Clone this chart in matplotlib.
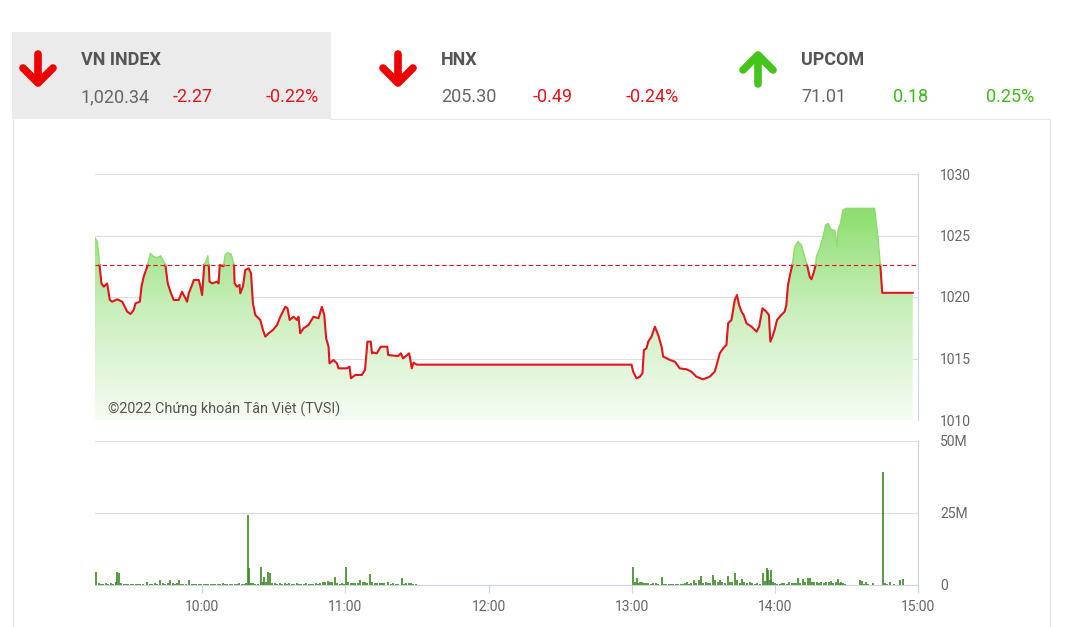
import matplotlib
matplotlib.use('Agg')
import matplotlib.pyplot as plt
from matplotlib.colors import LinearSegmentedColormap
from matplotlib.patches import Polygon, Rectangle
import numpy as np

plt.rcParams['font.family'] = ['Roboto', 'DejaVu Sans']

# header tiles
idx_names = ['VN INDEX', 'HNX', 'UPCOM']
idx_values = ['1,020.34', '205.30', '71.01']
idx_changes = ['-2.27', '-0.49', '0.18']
idx_pcts = ['-0.22%', '-0.24%', '0.25%']
idx_up = [False, False, True]

ref_price = 1022.61
watermark = '©2022 Chứng khoán Tân Việt (TVSI)'

# intraday price, minutes after 09:15
price_t = [0.0, 1.0, 1.5, 1.9, 2.7, 3.7, 5.1, 6.2, 7.2, 9.3, 11.4, 12.8, 13.5, 14.9, 16.2, 17.0,
           18.8, 19.5, 20.4, 21.9, 22.5, 23.2, 24.5, 26.0, 27.5, 28.5, 29.5, 30.5, 31.6, 33.0,
           35.1, 36.5, 38.6, 39.3, 40.7, 41.4, 43.5, 44.2, 44.9, 45.8, 46.5, 47.3, 47.7, 48.0,
           49.1, 51.2, 51.8, 52.3, 53.9, 54.5, 55.5, 57.0, 57.8, 58.3, 58.5, 59.5, 60.6, 60.9,
           62.0, 63.0, 64.4, 65.4, 66.2, 67.2, 69.3, 70.4, 71.4, 72.8, 74.6, 76.3, 77.7, 79.8,
           80.7, 81.6, 83.2, 84.7, 85.3, 86.0, 87.4, 89.5, 91.6, 93.7, 95.1, 96.1, 96.9, 97.9,
           98.3, 100.0, 101.4, 102.1, 105.6, 106.7, 107.3, 109.1, 111.8, 113.2, 114.2, 115.6,
           116.1, 116.4, 118.1, 119.8, 122.5, 122.9, 127.1, 128.2, 129.2, 131.7, 132.8, 133.5,
           134.9, 224.9, 225.6, 227.0, 228.4, 229.5, 230.1, 231.2, 231.9, 233.3, 234.7, 236.1,
           237.5, 238.2, 239.6, 241.0, 243.1, 245.1, 248.0, 250.0, 252.1, 254.9, 257.7, 259.8,
           260.8, 261.9, 263.3, 264.7, 265.4, 266.8, 268.2, 269.1, 270.0, 271.0, 271.9, 273.1,
           275.2, 277.3, 278.4, 279.8, 281.4, 282.5, 283.1, 284.0, 284.9, 285.9, 287.7, 289.1,
           289.8, 290.5, 291.5, 292.3, 293.3, 294.7, 296.1, 297.5, 298.5, 299.6, 300.3, 301.2,
           302.1, 302.4, 303.8, 305.2, 306.3, 307.3, 308.7, 310.1, 311.0, 311.5, 312.5, 313.5,
           315.0, 326.8, 328.2, 329.2, 330.0, 342.8]
price_v = [1024.8, 1024.5, 1023.6, 1022.6, 1021.1, 1020.84, 1021.1, 1019.76, 1019.62, 1019.81,
           1019.62, 1019.08, 1018.81, 1018.62, 1018.94, 1019.49, 1019.62, 1020.84, 1021.65,
           1022.47, 1023.0, 1023.55, 1023.3, 1023.2, 1023.35, 1023.0, 1022.6, 1021.11, 1020.43,
           1019.76, 1019.76, 1020.43, 1019.62, 1020.3, 1020.98, 1021.38, 1021.38, 1020.84,
           1020.16, 1022.6, 1022.9, 1023.35, 1022.6, 1021.25, 1021.11, 1021.25, 1021.11, 1022.6,
           1022.5, 1023.4, 1023.6, 1023.5, 1023.0, 1022.6, 1021.11, 1020.84, 1020.98, 1020.3,
           1020.84, 1022.2, 1022.33, 1021.93, 1019.49, 1018.54, 1018.13, 1017.32, 1016.78,
           1017.05, 1017.32, 1017.72, 1018.4, 1019.21, 1019.08, 1018.13, 1018.4, 1018.13,
           1018.4, 1017.05, 1017.45, 1017.72, 1018.4, 1018.27, 1019.21, 1018.54, 1016.64,
           1015.96, 1014.61, 1014.88, 1014.61, 1014.2, 1014.2, 1014.34, 1013.39, 1013.66,
           1013.66, 1014.07, 1016.37, 1016.37, 1015.42, 1015.5, 1015.42, 1015.96, 1015.96,
           1015.28, 1015.2, 1015.42, 1015.01, 1015.42, 1014.2, 1014.66, 1014.5, 1014.5,
           1013.93, 1013.39, 1013.52, 1013.79, 1015.69, 1015.83, 1016.37, 1016.78, 1017.59,
           1016.91, 1015.96, 1015.15, 1015.01, 1014.88, 1014.74, 1014.2, 1014.12, 1013.93,
           1013.52, 1013.31, 1013.52, 1013.93, 1014.61, 1015.42, 1015.83, 1016.1, 1017.86,
           1018.13, 1019.76, 1020.16, 1019.35, 1018.81, 1018.54, 1017.86, 1017.59, 1017.18,
           1017.59, 1019.08, 1018.81, 1018.54, 1016.37, 1016.78, 1017.32, 1018.13, 1018.54,
           1018.81, 1019.35, 1020.98, 1021.93, 1022.6, 1024.09, 1024.5, 1024.23, 1023.28,
           1022.6, 1021.65, 1021.44, 1021.93, 1022.6, 1023.28, 1023.96, 1024.9, 1025.85,
           1025.99, 1025.45, 1025.45, 1024.09, 1025.45, 1025.99, 1027.07, 1027.21, 1027.21,
           1024.9, 1022.6, 1020.34, 1020.34]

# volume (millions), minutes after 09:15
vol_t = [0.6, 1.5, 2.5, 3.5, 4.5, 5.5, 6.5, 7.5, 8.6, 9.3, 10.0, 10.7, 12, 13, 14, 15, 16, 17,
         18, 19, 20, 21.8, 23, 24, 25, 26, 27.4, 28.5, 29.5, 30.5, 31.6, 32.5, 33.5, 34.3, 35.1,
         36, 37, 38, 39.3, 40.5, 41.5, 42.5, 43.5, 44.5, 45.5, 46.5, 47.5, 48.5, 49.5, 50.5,
         51.5, 52.5, 53.5, 54.5, 55.5, 56.5, 57.5, 58.5, 59.5, 60.5, 61.5, 62.5, 63.3, 64.0,
         64.4, 65.3, 66.2, 67.2, 68.3, 69.6, 70.3, 70.9, 71.6, 72.5, 73.5, 74.4, 75.5, 76.5,
         77.5, 78.5, 79.5, 80.5, 81.5, 82.5, 83.5, 84.5, 85.5, 86.5, 87.5, 88.5, 89.5, 90.5,
         91.5, 92.5, 93.5, 94.5, 95.7, 96.6, 97.5, 98.5, 99.5, 100.7, 101.5, 102.5, 103.5,
         104.4, 105.2, 106.2, 107.2, 108.2, 109.2, 110.2, 111.2, 112.2, 113.2, 114.2, 115.3,
         116.3, 117.3, 118.3, 119.3, 120.3, 121.3, 122.9, 124, 125, 126, 127, 128.6, 129.6,
         130.5, 131.5, 132.5, 133.5, 134.5,
         225.6, 226.3, 227.0, 227.8, 228.5, 229.1, 230, 231, 232, 233, 234, 235, 236, 237.5,
         238.5, 239.5, 240.5, 241.5, 242.5, 243.5, 244.5, 245.5, 246.5, 247.3, 248, 249, 250,
         251, 252, 253, 254.2, 255, 256, 257, 258, 259.1, 260, 261, 262, 263, 264, 265.4,
         266.3, 267.2, 268.2, 269.2, 270.2, 271.2, 272.2, 273.2, 274.6, 275.6, 276.6, 277.6,
         278.6, 280.0, 280.8, 281.5, 282.1, 282.8, 283.3, 284.1, 285, 286, 287, 288, 289, 290,
         291, 292, 293, 294, 294.7, 295.6, 296.6, 297.5, 298.7, 299.6, 300.5, 301.5, 302.5,
         303.5, 304.5, 305.5, 306.5, 307.5, 308.7, 309.5, 310.5, 311.4, 312.2, 312.8, 313.7,
         314.6, 320.5, 321.4, 322.2, 323, 324.2, 326.1, 330.5, 331, 332, 333.2, 335, 337.4,
         338.6]
vol_m = [4.6, 0.6, 0.5, 0.5, 0.6, 0.5, 0.7, 0.5, 1.0, 4.6, 4.0, 0.8, 0.3, 0.3, 0.3, 0.3, 0.4,
         0.3, 0.4, 0.4, 0.5, 1.0, 0.4, 0.5, 0.6, 0.5, 1.8, 0.6, 0.5, 0.7, 1.8, 0.6, 0.5, 0.6,
         1.7, 0.5, 0.4, 0.3, 1.8, 0.4, 0.4, 0.3, 0.5, 0.4, 0.4, 0.5, 0.4, 0.5, 0.4, 0.3, 0.5,
         0.4, 0.6, 0.4, 0.5, 0.4, 0.3, 0.5, 0.4, 0.6, 0.5, 0.4, 0.6, 24.3, 5.8, 0.8, 0.6, 0.4,
         0.5, 6.3, 1.2, 2.9, 1.0, 4.4, 4.2, 0.8, 0.6, 0.5, 0.7, 0.5, 0.6, 0.4, 0.7, 0.5, 0.4,
         0.6, 0.5, 0.4, 0.5, 0.6, 0.4, 0.5, 0.4, 0.7, 0.5, 0.6, 1.2, 1.0, 1.3, 1.1, 1.2, 2.9,
         0.8, 0.5, 0.6, 0.5, 6.1, 0.9, 0.7, 0.6, 0.8, 0.7, 1.7, 0.9, 1.2, 0.8, 3.8, 0.9, 0.7,
         0.8, 0.6, 0.7, 0.6, 1.2, 0.5, 0.6, 0.5, 0.4, 2.3, 0.5, 0.8, 0.6, 0.7, 0.5, 0.4,
         6.1, 0.9, 2.3, 0.8, 0.9, 1.2, 0.7, 0.6, 0.7, 0.5, 0.6, 0.8, 0.5, 2.9, 0.5, 0.4, 0.4,
         0.5, 0.4, 0.4, 0.5, 0.4, 0.5, 0.7, 1.2, 0.5, 0.7, 1.6, 0.6, 1.6, 3.1, 0.6, 1.2, 0.8,
         0.6, 3.5, 1.7, 0.9, 1.7, 1.2, 0.6, 3.1, 1.2, 1.0, 4.0, 1.8, 0.8, 2.0, 0.9, 0.7, 1.2,
         0.6, 0.5, 0.6, 0.4, 4.0, 1.5, 5.8, 5.2, 1.8, 5.2, 0.9, 0.6, 0.4, 0.5, 0.6, 0.6, 0.5,
         1.0, 0.6, 0.8, 0.7, 2.3, 0.8, 2.0, 0.9, 2.3, 2.3, 1.0, 0.9, 1.2, 0.8, 0.9, 0.7, 1.0,
         1.1, 1.5, 0.8, 0.9, 2.0, 0.8, 1.2, 0.7, 0.5, 1.7, 1.5, 0.5, 1.2, 0.4, 0.8, 39.2, 0.8,
         0.5, 1.2, 0.4, 1.7, 2.0]

hour_ticks = [45, 105, 165, 225, 285, 345]
hour_labels = ['10:00', '11:00', '12:00', '13:00', '14:00', '15:00']
price_ticks = [1010, 1015, 1020, 1025, 1030]
vol_ticks = [0, 25, 50]
vol_labels = ['0', '25M', '50M']

RED = '#e3141c'
GREEN_TXT = '#3fba1d'
GRAY_TXT = '#666666'
AXIS_BLUE = '#ccd6eb'
GRID = '#dedede'

W, H = 1066, 627
fig = plt.figure(figsize=(W / 100, H / 100), dpi=100)


def px_axes(x0, y0, x1, y1):
    return fig.add_axes([x0 / W, 1 - y1 / H, (x1 - x0) / W, (y1 - y0) / H])


# background / header
bg = fig.add_axes([0, 0, 1, 1], zorder=-1)
bg.set_xlim(0, W)
bg.set_ylim(H, 0)
bg.axis('off')
bg.add_patch(Rectangle((12, 32), 319, 87, color='#ebebeb', lw=0))
bg.plot([13, 13], [119, 627], color='#e6e6e6', lw=0.8)
bg.plot([331, 1050], [119, 119], color='#e6e6e6', lw=0.8)
bg.plot([1050, 1050], [119, 627], color='#e6e6e6', lw=0.8)

tile_x = [0, 360, 720]
for i, name in enumerate(idx_names):
    x0 = tile_x[i]
    ax_c = x0 + 38
    if idx_up[i]:
        col = '#45c41c'
        bg.plot([ax_c, ax_c], [84, 56], color=col, lw=5.5, solid_capstyle='round')
        bg.plot([ax_c - 15, ax_c, ax_c + 15], [70, 55, 70], color=col, lw=5.5,
                solid_capstyle='round', solid_joinstyle='round')
    else:
        col = '#ee0000'
        bg.plot([ax_c, ax_c], [54, 82], color=col, lw=5.5, solid_capstyle='round')
        bg.plot([ax_c - 15, ax_c, ax_c + 15], [68, 83, 68], color=col, lw=5.5,
                solid_capstyle='round', solid_joinstyle='round')
    chg_col = GREEN_TXT if idx_up[i] else RED
    bg.text(x0 + 81, 65, name, fontsize=13, fontweight='bold', color='#555555', va='baseline')
    bg.text(x0 + 81, 102.5, idx_values[i], fontsize=13, color=GRAY_TXT, va='baseline')
    bg.text(x0 + 173, 102.5, idx_changes[i], fontsize=13, color=chg_col, va='baseline')
    bg.text(x0 + 266, 102.5, idx_pcts[i], fontsize=13, color=chg_col, va='baseline')

# price chart
t = np.array(price_t)
p = np.array(price_v)

# split the line where it crosses the reference price
tt, pp = [t[0]], [p[0]]
for i in range(1, len(t)):
    a, b = p[i - 1] - ref_price, p[i] - ref_price
    if a * b < 0:
        f = a / (a - b)
        tt.append(t[i - 1] + f * (t[i] - t[i - 1]))
        pp.append(ref_price)
    tt.append(t[i])
    pp.append(p[i])
tt = np.array(tt)
pp = np.array(pp)

ax = px_axes(95, 174, 918, 420)
ax.set_facecolor('none')
ax.set_xlim(0, 345)
ax.set_ylim(1010, 1030)

cmap = LinearSegmentedColormap.from_list('g', ['#f6fcf4', '#c9efbc', '#86dc66'])
grad = np.linspace(0, 1, 256).reshape(-1, 1)
im = ax.imshow(grad, cmap=cmap, aspect='auto', origin='lower',
               extent=[0, 345, 1010, 1028], zorder=1)
verts = list(zip(t, p)) + [(t[-1], 1010), (t[0], 1010)]
clip = Polygon(verts, closed=True, facecolor='none', edgecolor='none')
ax.add_patch(clip)
im.set_clip_path(clip)

ax.plot(tt, np.where(pp <= ref_price + 1e-9, pp, np.nan), color=RED, lw=1.5, zorder=3)
ax.plot(tt, np.where(pp >= ref_price - 1e-9, pp, np.nan), color='#8edd70', lw=1.0, zorder=3)
ax.axhline(ref_price, color=RED, lw=0.8, dashes=(4, 2.5), zorder=4)

ax.set_yticks(price_ticks)
ax.grid(axis='y', color=GRID, lw=0.8, zorder=0)
ax.set_axisbelow(True)
ax.set_xticks([])
ax.yaxis.tick_right()
ax.tick_params(axis='y', length=0, pad=16, labelsize=10, labelcolor=GRAY_TXT)
for s in ['top', 'left', 'bottom']:
    ax.spines[s].set_visible(False)
ax.spines['right'].set_color(AXIS_BLUE)
ax.spines['right'].set_linewidth(0.8)

fig.text(108 / W, 1 - 409 / H, watermark, fontsize=10.4, color='#555555', va='center', zorder=5)

# volume chart
av = px_axes(95, 441, 918, 585)
av.set_facecolor('none')
av.set_xlim(0, 345)
av.set_ylim(0, 50)
av.vlines(vol_t, 0, vol_m, color='#3a8a20', lw=1.2, zorder=3)
av.set_yticks(vol_ticks)
av.set_yticklabels(vol_labels)
av.grid(axis='y', color=GRID, lw=0.8, zorder=0)
av.set_axisbelow(True)
av.yaxis.tick_right()
av.tick_params(axis='y', length=0, pad=16, labelsize=10, labelcolor=GRAY_TXT)
av.set_xticks(hour_ticks)
av.set_xticklabels(hour_labels)
av.tick_params(axis='x', length=6, width=0.8, color=AXIS_BLUE, pad=5, labelsize=10,
               labelcolor=GRAY_TXT)
for s in ['top', 'left']:
    av.spines[s].set_visible(False)
for s in ['right', 'bottom']:
    av.spines[s].set_color(AXIS_BLUE)
    av.spines[s].set_linewidth(0.8)

fig.savefig('out.png', dpi=100)
